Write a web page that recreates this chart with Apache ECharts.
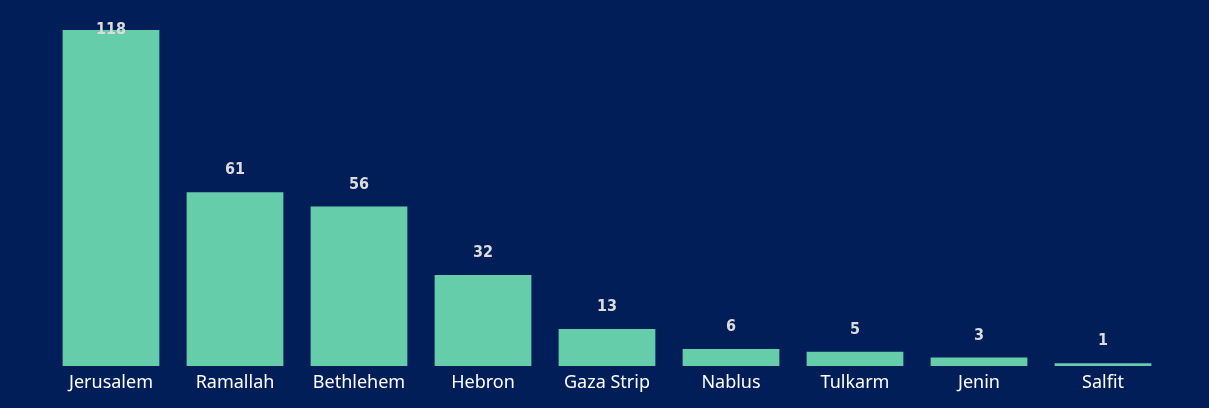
<!DOCTYPE html>
<html lang="en">
<head>
    <meta charset="UTF-8">
    <title>Bar chart</title>
    <script src="https://cdn.jsdelivr.net/npm/echarts@6/dist/echarts.min.js"></script>
</head>
<body style="margin:0;width:1209px;height:408px;background:#011e58">
    <div id="container" style="width:1209px;height:408px"></div>
</body>
<script>
    var cities = ['Jerusalem', 'Ramallah', 'Bethlehem', 'Hebron', 'Gaza Strip', 'Nablus', 'Tulkarm', 'Jenin', 'Salfit'];
    var counts = [118, 61, 56, 32, 13, 6, 5, 3, 1];

    var dom = document.getElementById("container");
    var myChart = echarts.init(dom);

    var barData = counts.map(function (v, i) {
        if (i === 0) {
            // no room above the tallest bar, label sits on its top edge
            return { value: v, label: { distance: -8 } };
        }
        return v;
    });

    var option = {
        backgroundColor: '#011e58',
        grid: { left: 49, right: 44, top: 30, bottom: 42 },
        xAxis: {
            type: 'category',
            data: cities,
            axisLine: { show: false },
            axisTick: { show: false },
            axisLabel: {
                color: '#ffffff',
                fontFamily: 'Noto Sans',
                fontSize: 18,
                margin: 8
            }
        },
        yAxis: {
            type: 'value',
            min: 0,
            max: 118,
            show: false,
            splitLine: { show: false }
        },
        series: [{
            type: 'bar',
            data: barData,
            barCategoryGap: '22%',
            itemStyle: { color: '#66cdaa' },
            label: {
                show: true,
                position: 'top',
                distance: 14,
                color: '#dcdcdc',
                fontFamily: 'DejaVu Sans Condensed',
                fontWeight: 'bold',
                fontSize: 16
            }
        }]
    };
    myChart.setOption(option, true);
</script>
</html>
